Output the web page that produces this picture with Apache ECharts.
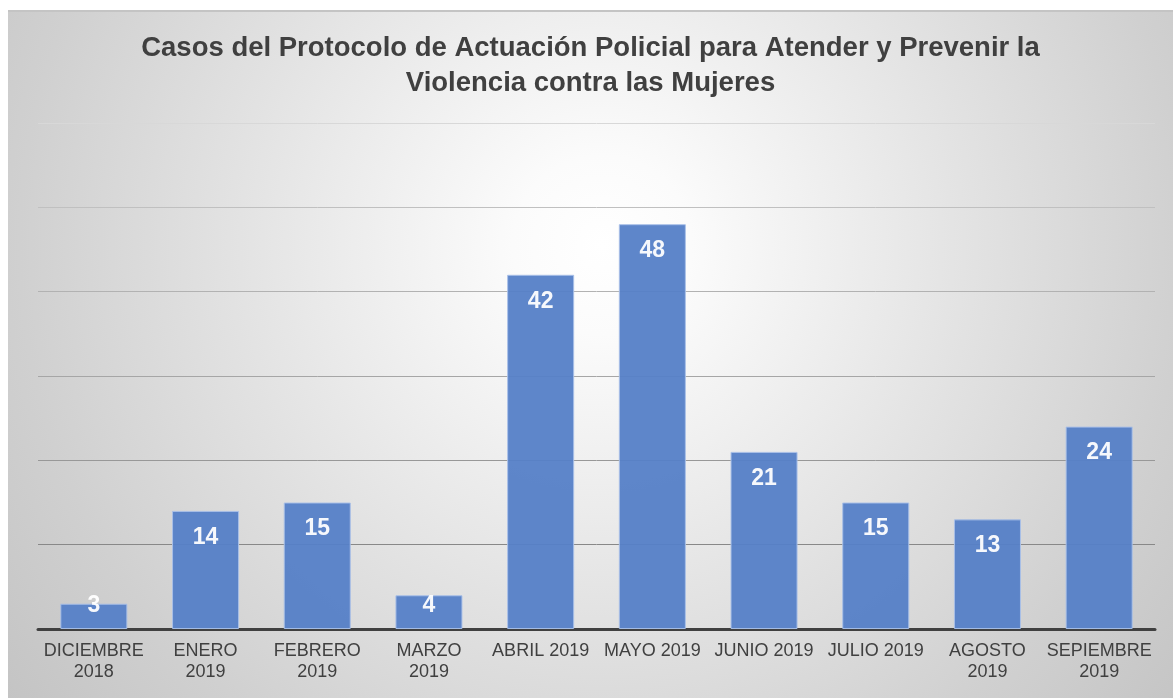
<!DOCTYPE html>
<html>
<head>
<meta charset="utf-8">
<script src="https://cdn.jsdelivr.net/npm/echarts@6/dist/echarts.min.js"></script>
<style>
  html, body { margin: 0; padding: 0; background: #ffffff; }
  #chart {
    position: absolute;
    left: 8px; top: 10px;
    width: 1165px; height: 688px;
    box-sizing: border-box;
    border-top: 2px solid #c4c4c4;
    background: radial-gradient(circle farthest-corner at 51% 34%, #ffffff 0%, #fbfbfb 12%, #e2e2e2 50%, #d0d0d0 78%, #c4c4c4 100%);
  }
</style>
</head>
<body>
<div id="chart"></div>
<script>
// Monthly case counts
const categories = [
  'DICIEMBRE\n2018', 'ENERO\n2019', 'FEBRERO\n2019', 'MARZO\n2019', 'ABRIL 2019',
  'MAYO 2019', 'JUNIO 2019', 'JULIO 2019', 'AGOSTO\n2019', 'SEPIEMBRE\n2019'
];
const casos = [3, 14, 15, 4, 42, 48, 21, 15, 13, 24];
const yMin = 0;
const yMax = 60;
const yStep = 10;

const titleText = 'Casos del Protocolo de Actuación Policial para Atender y Prevenir la\nViolencia contra las Mujeres';

const FONT = "'Liberation Sans', Arial, sans-serif";

// short bars keep their label just above the axis, taller bars carry it inside the top end
const barData = casos.map(v => v < 6
  ? { value: v, label: { position: 'insideBottom', distance: 12 } }
  : { value: v });

const chart = echarts.init(document.getElementById('chart'), null, { renderer: 'canvas' });

chart.setOption({
  backgroundColor: 'transparent',
  animation: false,
  title: {
    text: titleText,
    left: 'center',
    top: 14,
    textStyle: {
      fontFamily: FONT,
      fontSize: 27.5,
      fontWeight: 'bold',
      color: '#404040',
      lineHeight: 35
    }
  },
  grid: {
    left: 30,
    right: 18,
    top: 111,
    bottom: 69,
    containLabel: false
  },
  xAxis: {
    type: 'category',
    data: categories,
    axisLine: { show: true, lineStyle: { color: '#404040', width: 3 } },
    axisTick: { show: false },
    axisLabel: {
      interval: 0,
      margin: 12,
      fontFamily: FONT,
      fontSize: 18,
      lineHeight: 21,
      color: '#404040'
    }
  },
  yAxis: {
    type: 'value',
    min: yMin,
    max: yMax,
    interval: yStep,
    axisLine: { show: false },
    axisTick: { show: false },
    axisLabel: { show: false },
    splitLine: {
      show: true,
      lineStyle: {
        width: 1,
        color: ['#404040', '#888888', '#989898', '#a6a6a6', '#b2b2b2', '#c0c0c0', '#d8d8d8']
      }
    }
  },
  series: [{
    type: 'bar',
    data: barData,
    barCategoryGap: '40%',
    itemStyle: {
      color: '#5580c7',
      borderColor: '#a9c0e8',
      borderWidth: 1,
      opacity: 0.95
    },
    label: {
      show: true,
      position: 'insideTop',
      distance: 15,
      fontFamily: FONT,
      fontSize: 23,
      fontWeight: 'bold',
      color: '#ffffff'
    }
  }]
});
</script>
</body>
</html>
